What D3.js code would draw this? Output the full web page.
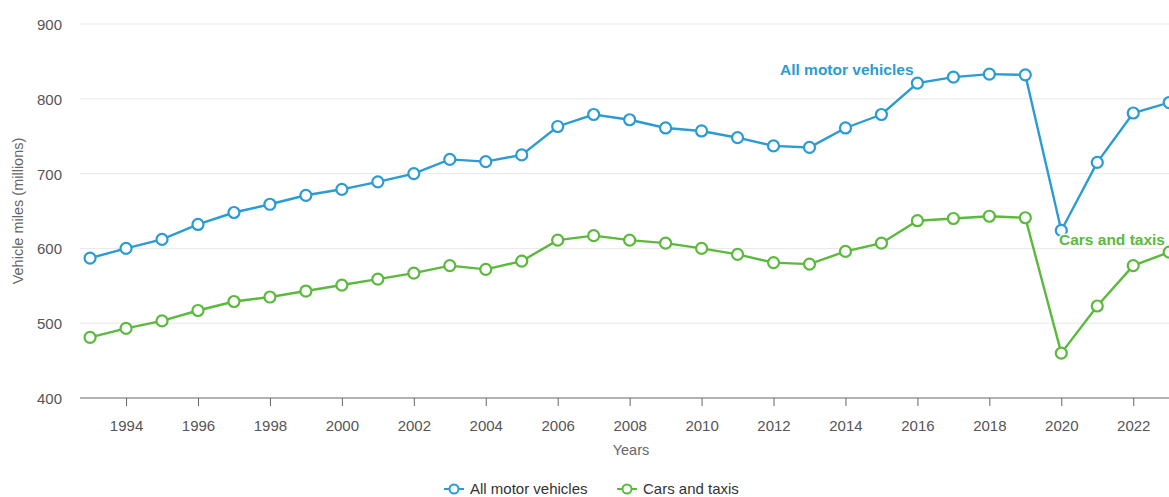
<!DOCTYPE html>
<html>
<head>
<meta charset="utf-8">
<script src="https://cdn.jsdelivr.net/npm/d3@7"></script>
<style>
  body { margin: 0; background: #fff; }
  svg { font-family: "Liberation Sans", Arial, sans-serif; display: block; }
</style>
</head>
<body>
<svg width="1169" height="497"></svg>
<script>
// --- Data ---
const years = d3.range(1993, 2024);
const allMotor = [587, 600, 612, 632, 648, 659, 671, 679, 689, 700, 719, 716, 725, 763, 779,
                  772, 761, 757, 748, 737, 735, 761, 779, 821, 829, 833, 832, 624, 715, 781, 795];
const carsTaxis = [481, 493, 503, 517, 529, 535, 543, 551, 559, 567, 577, 572, 583, 611, 617,
                   611, 607, 600, 592, 581, 579, 596, 607, 637, 640, 643, 641, 460, 523, 577, 595];
const yTicks = [400, 500, 600, 700, 800, 900];
const xTicks = d3.range(1994, 2024, 2);

const series = [
  { name: "All motor vehicles", values: allMotor, color: "#2b9bd3" },
  { name: "Cars and taxis", values: carsTaxis, color: "#5bb93d" }
];

// --- Setup ---
const svg = d3.select("svg");
const x = d3.scaleLinear().domain([1992.72, 2023.3]).range([80, 1180]);
const y = d3.scaleLinear().domain([400, 900]).range([398, 24]);

// gridlines
svg.append("g")
  .selectAll("line")
  .data(yTicks.slice(1))
  .enter().append("line")
  .attr("x1", 80).attr("x2", 1169)
  .attr("y1", d => y(d)).attr("y2", d => y(d))
  .attr("stroke", "#e8e8e8").attr("stroke-width", 1);

// y tick labels
svg.append("g")
  .selectAll("text")
  .data(yTicks)
  .enter().append("text")
  .attr("x", 62).attr("y", d => y(d) + 6)
  .attr("text-anchor", "end")
  .attr("font-size", "15px").attr("fill", "#555")
  .text(d => d);

// x axis
const xAxis = svg.append("g")
  .attr("transform", "translate(0,398)")
  .call(d3.axisBottom(x).tickValues(xTicks).tickFormat(d3.format("d")).tickSize(8).tickPadding(14));
xAxis.select(".domain").attr("stroke", "#666").attr("d", "M80,0H1169");
xAxis.selectAll(".tick line").attr("stroke", "#666");
xAxis.selectAll(".tick text").attr("font-size", "15px").attr("fill", "#555")
  .attr("font-family", "Liberation Sans, Arial, sans-serif");

// axis titles
svg.append("text")
  .attr("transform", "translate(23,211) rotate(-90)")
  .attr("text-anchor", "middle")
  .attr("font-size", "14.5px").attr("fill", "#666")
  .text("Vehicle miles (millions)");

svg.append("text")
  .attr("x", 631).attr("y", 455)
  .attr("text-anchor", "middle")
  .attr("font-size", "14.5px").attr("fill", "#666")
  .text("Years");

// --- Lines ---
const line = d3.line().x((d, i) => x(years[i])).y(d => y(d));

series.forEach(s => {
  const g = svg.append("g");
  g.append("path")
    .attr("d", line(s.values))
    .attr("fill", "none")
    .attr("stroke", s.color)
    .attr("stroke-width", 2.4);
  g.selectAll("circle")
    .data(s.values)
    .enter().append("circle")
    .attr("cx", (d, i) => x(years[i]))
    .attr("cy", d => y(d))
    .attr("r", 5.5)
    .attr("fill", "#fff")
    .attr("stroke", s.color)
    .attr("stroke-width", 2.2);
});

// series labels
svg.append("text")
  .attr("x", 780).attr("y", 75)
  .attr("font-size", "15.5px").attr("font-weight", "bold")
  .attr("fill", series[0].color)
  .attr("stroke", "#fff").attr("stroke-width", 3).attr("paint-order", "stroke")
  .text(series[0].name);

svg.append("text")
  .attr("x", 1059).attr("y", 245)
  .attr("font-size", "15.5px").attr("font-weight", "bold")
  .attr("fill", series[1].color)
  .attr("stroke", "#fff").attr("stroke-width", 3).attr("paint-order", "stroke")
  .text(series[1].name);

// --- Legend ---
const legendX = [444, 617];
series.forEach((s, i) => {
  const lg = svg.append("g").attr("transform", `translate(${legendX[i]},489)`);
  lg.append("line").attr("x1", 0).attr("x2", 20).attr("stroke", s.color).attr("stroke-width", 2);
  lg.append("circle").attr("cx", 10).attr("r", 4.5).attr("fill", "#fff")
    .attr("stroke", s.color).attr("stroke-width", 2);
  lg.append("text").attr("x", 26).attr("y", 5)
    .attr("font-size", "15px").attr("fill", "#333")
    .text(s.name);
});
</script>
</body>
</html>
